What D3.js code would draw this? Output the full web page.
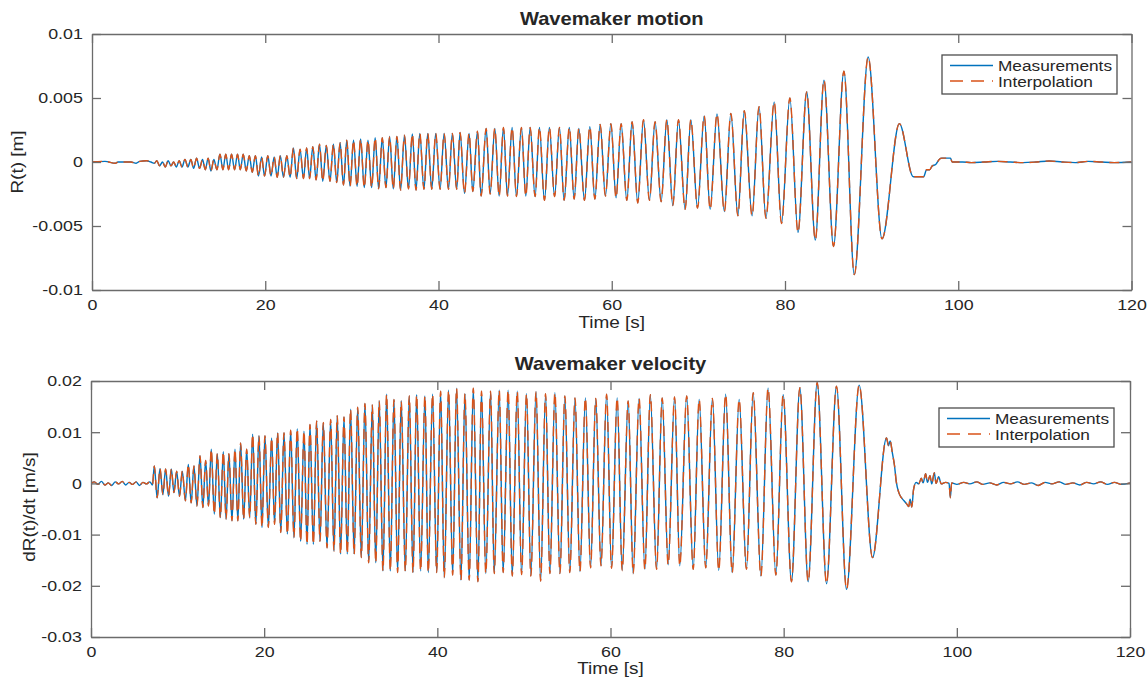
<!DOCTYPE html>
<html>
<head>
<meta charset="utf-8">
<script src="https://cdn.jsdelivr.net/npm/d3@7"></script>
<style>
  body { margin: 0; background: #fff; }
  svg { display: block; }
  text { font-family: "Liberation Sans", Arial, Helvetica, sans-serif; fill: #262626; }
</style>
</head>
<body>
<svg id="fig" width="1148" height="684"></svg>
<script>
// series names and tick values
var seriesNames = ["Measurements", "Interpolation"];
var timeTicks = [0, 20, 40, 60, 80, 100, 120];
var motionTicks = [-0.01, -0.005, 0, 0.005, 0.01];
var velocityTicks = [-0.03, -0.02, -0.01, 0, 0.01, 0.02];

// wavemaker motion R(t): extrema
var motionTime = [0, 1.5, 2.7, 3.0, 4.5, 5.1, 5.5, 6.3, 6.8, 7.2,
  7.48, 7.80, 8.14, 8.46, 8.79, 9.12, 9.43, 9.74, 10.06, 10.39,
  10.73, 11.07, 11.41, 11.73, 12.07, 12.42, 12.76, 13.08, 13.41, 13.73,
  14.07, 14.42, 14.77, 15.11, 15.44, 15.77, 16.11, 16.46, 16.8, 17.12,
  17.46, 17.81, 18.16, 18.5, 18.86, 19.22, 19.58, 19.92, 20.29, 20.67,
  21.03, 21.38, 21.74, 22.1, 22.49, 22.87, 23.25, 23.63, 24.02, 24.41,
  24.78, 25.12, 25.49, 25.87, 26.26, 26.64, 27.05, 27.47, 27.87, 28.25,
  28.64, 29.03, 29.41, 29.79, 30.19, 30.6, 31.01, 31.43, 31.86, 32.28,
  32.69, 33.09, 33.51, 33.93, 34.36, 34.78, 35.2, 35.62, 36.07, 36.53,
  36.98, 37.4, 37.84, 38.32, 38.76, 39.22, 39.68, 40.18, 40.65, 41.15,
  41.6, 42.1, 42.49, 43.0, 43.53, 43.96, 44.5, 44.92, 45.5, 45.96,
  46.5, 47.0, 47.5, 47.96, 48.5, 49.0, 49.57, 50.08, 50.58, 51.15,
  51.65, 52.23, 52.8, 53.4, 53.96, 54.5, 55.1, 55.66, 56.2, 56.85,
  57.47, 58.05, 58.66, 59.27, 59.9, 60.5, 61.08, 61.74, 62.35, 63.0,
  63.66, 64.35, 65.0, 65.7, 66.36, 67.05, 67.7, 68.47, 69.13, 69.9,
  70.67, 71.36, 72.15, 73.0, 73.75, 74.56, 75.3, 76.2, 77.0, 77.8,
  78.75, 79.6, 80.56, 81.5, 82.5, 83.5, 84.5, 85.6, 86.8, 88.0,
  89.6, 91.2, 93.2, 94.8, 96.0, 96.35, 96.7, 97.0, 97.4, 97.8,
  98.1, 99.1, 99.3, 100.5, 101.5, 103, 104.5, 106, 107.5, 109,
  110.5, 112, 113.5, 115, 116.5, 118, 120];
var motionValue = [0, 0.00005, -0.0001, 0, 0, -0.0001, 0.00005, 0.0001, 0, -0.0001,
  0.0001, -0.0003, 0.0, -0.0004, 0.0001, -0.0003, 0.0, -0.0004, 0.0001, -0.0004,
  0.0002, -0.0004, 0.0002, -0.0005, 0.0003, -0.0005, 0.0002, -0.0006, 0.0003, -0.0007,
  0.0002, -0.0006, 0.0006, -0.0006, 0.0006, -0.0006, 0.0006, -0.0006, 0.0006, -0.0006,
  0.0006, -0.0007, 0.0005, -0.0008, 0.0005, -0.0011, 0.0004, -0.0011, 0.0005, -0.0011,
  0.0004, -0.0012, 0.0005, -0.0012, 0.0005, -0.0012, 0.0011, -0.0013, 0.0010, -0.0013,
  0.0011, -0.0013, 0.0012, -0.0014, 0.0014, -0.0015, 0.0013, -0.0015, 0.0014, -0.0016,
  0.0015, -0.0018, 0.0017, -0.0019, 0.0017, -0.0019, 0.0018, -0.0020, 0.0017, -0.0020,
  0.0019, -0.0021, 0.0019, -0.0020, 0.0020, -0.0021, 0.0020, -0.0022, 0.0021, -0.0021,
  0.0022, -0.0022, 0.00224, -0.00213, 0.00224, -0.00213, 0.00224, -0.00213, 0.00224, -0.00213,
  0.00224, -0.00213, 0.0023, -0.00245, 0.00224, -0.0023, 0.0024, -0.00266, 0.00263, -0.0025,
  0.00263, -0.00266, 0.0027, -0.00266, 0.0027, -0.0027, 0.0027, -0.00266, 0.0027, -0.0027,
  0.0027, -0.0030, 0.0027, -0.0027, 0.0027, -0.0030, 0.0027, -0.0029, 0.00263, -0.0030,
  0.00276, -0.0029, 0.00294, -0.00266, 0.0030, -0.0028, 0.0030, -0.0030, 0.00315, -0.0032,
  0.0033, -0.0030, 0.00315, -0.0031, 0.0033, -0.0034, 0.0033, -0.0037, 0.0033, -0.0036,
  0.0036, -0.0037, 0.00375, -0.00388, 0.0038, -0.0042, 0.0040, -0.0042, 0.00433, -0.0044,
  0.0047, -0.0048, 0.0050, -0.0055, 0.00547, -0.0061, 0.0064, -0.0066, 0.0071, -0.0088,
  0.0082, -0.0060, 0.0030, -0.00115, -0.00115, -0.0006, -0.0006, -0.0003, -0.0002, 0.0002,
  0.0003, 0.0003, 0.0, 0.0, -0.00005, 0.0, 0.00005, 0.0, -0.00005, 0.0,
  0.00008, 0.0, -0.00005, 0.00005, 0.0, -0.00005, 0.0];

// wavemaker velocity dR/dt: extrema
var velocityTime = [0, 0.4, 0.8, 1.2, 1.6, 2.0, 2.4, 2.8, 3.2, 3.6,
  4.0, 4.4, 4.8, 5.2, 5.6, 6.0, 6.4, 6.8, 7.1,
  7.31, 7.64, 7.97, 8.30, 8.62, 8.95, 9.28, 9.58, 9.89, 10.22,
  10.55, 10.9, 11.24, 11.57, 11.89, 12.24, 12.59, 12.92, 13.24, 13.57,
  13.89, 14.24, 14.59, 14.94, 15.28, 15.6, 15.93, 16.28, 16.63, 16.96,
  17.28, 17.63, 17.98, 18.33, 18.67, 19.04, 19.4, 19.75, 20.09, 20.48,
  20.86, 21.2, 21.55, 21.92, 22.29, 22.68, 23.06, 23.44, 23.82, 24.21,
  24.6, 24.95, 25.29, 25.68, 26.06, 26.45, 26.83, 27.26, 27.68, 28.06,
  28.44, 28.83, 29.22, 29.6, 29.98, 30.39, 30.8, 31.22, 31.64, 32.07,
  32.49, 32.89, 33.29, 33.72, 34.14, 34.57, 34.99, 35.41, 35.83, 36.3,
  36.76, 37.19, 37.61, 38.07, 38.57, 38.95, 39.45, 39.92, 40.38, 40.8,
  41.3, 41.77, 42.22, 42.73, 43.19, 43.68, 44.15, 44.69, 45.1, 45.6,
  46.15, 46.57, 47.15, 47.6, 48.18, 48.65, 49.23, 49.73, 50.3, 50.8,
  51.4, 51.93, 52.5, 53.0, 53.58, 54.16, 54.73, 55.3, 55.9, 56.47,
  57.1, 57.7, 58.3, 58.9, 59.55, 60.12, 60.77, 61.35, 62.04, 62.62,
  63.3, 63.97, 64.6, 65.32, 65.97, 66.66, 67.4, 68.0, 68.8, 69.55,
  70.24, 71.0, 71.77, 72.5, 73.3, 74.05, 74.86, 75.7, 76.48, 77.37,
  78.2, 79.1, 79.94, 80.9, 81.87, 82.83, 83.87, 84.95, 86.1, 87.26,
  88.72, 90.26, 91.88, 92.1, 92.3, 92.55, 92.8, 93.0, 93.3, 93.6,
  93.9, 94.2, 94.45, 94.6, 94.8, 95.0, 95.3, 95.6, 95.9, 96.1,
  96.4, 96.6, 96.9, 97.1, 97.4, 97.6, 97.9, 98.2, 98.7, 99.1,
  99.25, 99.4, 100, 100.8, 101.5, 102.3, 103.0, 103.8, 104.6, 105.4,
  106.2, 107.0, 107.8, 108.6, 109.4, 110.2, 111.0, 111.8, 112.6, 113.4,
  114.2, 115.0, 115.8, 116.6, 117.4, 118.2, 119.0, 120];
var velocityValue = [0, 0.0003, -0.0002, 0.0004, -0.0003, 0.0001, -0.0004, 0.0003, -0.0001, 0.0004,
  -0.0003, 0.0002, -0.0002, 0.0003, -0.0004, 0.0002, -0.0001, 0.0003, -0.0003,
  0.0034, -0.0028, 0.0029, -0.0022, 0.0028, -0.0025, 0.0028, -0.0018, 0.0024, -0.0025,
  0.0024, -0.0034, 0.0037, -0.0038, 0.0034, -0.0044, 0.0054, -0.0047, 0.0045, -0.0044,
  0.0067, -0.0060, 0.0058, -0.0067, 0.0062, -0.0070, 0.0058, -0.0073, 0.0067, -0.0073,
  0.0079, -0.0070, 0.0067, -0.0067, 0.0096, -0.0080, 0.0093, -0.0086, 0.0093, -0.0086,
  0.0089, -0.0080, 0.0099, -0.0096, 0.0099, -0.0099, 0.0104, -0.0106, 0.0107, -0.0113,
  0.0102, -0.0119, 0.0115, -0.0119, 0.0122, -0.0113, 0.0119, -0.0126, 0.0125, -0.0132,
  0.0132, -0.0138, 0.0130, -0.0138, 0.0145, -0.0138, 0.0149, -0.0145, 0.0156, -0.0155,
  0.0153, -0.0155, 0.0161, -0.0171, 0.0174, -0.0171, 0.0164, -0.0174, 0.0161, -0.0171,
  0.0171, -0.0174, 0.0173, -0.0171, 0.0171, -0.0174, 0.0174, -0.0174, 0.0180, -0.0184,
  0.0182, -0.0179, 0.0186, -0.0189, 0.0175, -0.0189, 0.0186, -0.0192, 0.0180, -0.0176,
  0.0180, -0.0176, 0.0182, -0.0174, 0.0182, -0.0181, 0.0180, -0.0178, 0.0175, -0.0181,
  0.0179, -0.0191, 0.0175, -0.0176, 0.0177, -0.0176, 0.0171, -0.0174, 0.0167, -0.0172,
  0.0167, -0.0165, 0.0166, -0.0161, 0.0174, -0.0166, 0.0167, -0.0170, 0.0161, -0.0176,
  0.0166, -0.0168, 0.0173, -0.0168, 0.0167, -0.0159, 0.0169, -0.0161, 0.0171, -0.0168,
  0.0164, -0.0165, 0.0166, -0.0170, 0.0174, -0.0174, 0.0164, -0.0168, 0.0177, -0.0181,
  0.0186, -0.0179, 0.0173, -0.0192, 0.0187, -0.0192, 0.0197, -0.0196, 0.0190, -0.0207,
  0.0192, -0.0145, 0.0089, 0.0074, 0.0083, 0.0060, 0.0035, 0.0004, -0.0018, -0.0028,
  -0.0034, -0.0040, -0.0045, -0.0031, -0.0046, -0.0012, 0.0002, -0.0001, 0.0010, 0.0001,
  0.0019, 0.0002, 0.0015, -0.0001, 0.0021, 0.0000, 0.0013, -0.0001, 0.0002, 0.0000,
  -0.0028, 0.0001, -0.0002, 0.0002, -0.0001, 0.0003, -0.0002, 0.0001, -0.0003, 0.0002,
  -0.0001, 0.0003, -0.0002, 0.0001, -0.0004, 0.0002, -0.0001, 0.0003, -0.0002, 0.0001,
  -0.0003, 0.0002, -0.0001, 0.0003, -0.0002, 0.0002, -0.0002, 0.0001];

var colors = ["#0072BD", "#D95319"];
var sx = 1.15; // horizontal stretch of the lettering
var svg = d3.select("#fig");

function panel(opt) {
  var x = d3.scaleLinear().domain([0, 120]).range([opt.left, opt.right]);
  var y = d3.scaleLinear().domain(d3.extent(opt.yTicks)).range([opt.bottom, opt.top]);
  var g = svg.append("g");
  var data = opt.time.map(function(t, i) { return [t, opt.values[i]]; });

  g.append("clipPath").attr("id", opt.id)
    .append("rect")
    .attr("x", opt.left).attr("y", opt.top)
    .attr("width", opt.right - opt.left).attr("height", opt.bottom - opt.top);

  var line = d3.line()
    .x(function(d) { return x(d[0]); })
    .y(function(d) { return y(d[1]); })
    .curve(d3.curveMonotoneX);

  var lines = g.append("g").attr("clip-path", "url(#" + opt.id + ")");
  lines.append("path").datum(data)
    .attr("d", line).attr("fill", "none")
    .attr("stroke", colors[0]).attr("stroke-width", 1.4);
  lines.append("path").datum(data)
    .attr("d", line).attr("fill", "none")
    .attr("stroke", colors[1]).attr("stroke-width", 1.4)
    .attr("stroke-dasharray", "10,6");

  // axes with inward ticks on all four sides
  var fmt = function(d) { return String(d); };
  function style(sel) {
    sel.select(".domain").attr("stroke", "#6b6b6b").attr("stroke-width", 1.3);
    sel.selectAll(".tick line").attr("stroke", "#6b6b6b").attr("stroke-width", 1.3);
    sel.selectAll("text").attr("font-size", 15.5).attr("fill", "#262626")
      .attr("font-family", "Liberation Sans, Arial, sans-serif");
  }
  g.append("g").attr("transform", "translate(0," + opt.bottom + ")")
    .call(d3.axisBottom(x).tickValues(timeTicks).tickFormat(fmt).tickSize(-9).tickSizeOuter(0).tickPadding(9))
    .call(style)
    .selectAll("text").attr("transform", "scale(" + sx + ",1)");
  g.append("g").attr("transform", "translate(0," + opt.top + ")")
    .call(d3.axisTop(x).tickValues(timeTicks).tickFormat("").tickSize(-9).tickSizeOuter(0))
    .call(style);
  g.append("g").attr("transform", "translate(" + opt.left + ",0)")
    .call(d3.axisLeft(y).tickValues(opt.yTicks).tickFormat(fmt).tickSize(-9).tickSizeOuter(0).tickPadding(8))
    .call(style)
    .selectAll("text").attr("transform", "scale(" + sx + ",1)");
  g.append("g").attr("transform", "translate(" + opt.right + ",0)")
    .call(d3.axisRight(y).tickValues(opt.yTicks).tickFormat("").tickSize(-9).tickSizeOuter(0))
    .call(style);

  var cx = (opt.left + opt.right) / 2;
  g.append("text").text(opt.title)
    .attr("text-anchor", "middle").attr("font-weight", "bold").attr("font-size", 17.5)
    .attr("transform", "translate(" + cx + "," + opt.titleY + ") scale(" + sx + ",1)");
  g.append("text").text("Time [s]")
    .attr("text-anchor", "middle").attr("font-size", 16.5)
    .attr("transform", "translate(" + cx + "," + opt.xLabelY + ") scale(" + sx + ",1)");
  g.append("text").text(opt.yLabel)
    .attr("text-anchor", "middle").attr("font-size", 16.5)
    .attr("transform", "translate(" + opt.yLabelX + "," + opt.yLabelY + ") rotate(-90) scale(" + sx + ",1)");

  // legend
  var lg = g.append("g").attr("transform", "translate(" + opt.legend[0] + "," + opt.legend[1] + ")");
  lg.append("rect").attr("width", 175).attr("height", 39)
    .attr("fill", "#fff").attr("stroke", "#4d4d4d").attr("stroke-width", 1.3);
  seriesNames.forEach(function(name, i) {
    var yy = 10.5 + i * 15.5;
    lg.append("line").attr("x1", 8).attr("x2", 51).attr("y1", yy).attr("y2", yy)
      .attr("stroke", colors[i]).attr("stroke-width", 1.4)
      .attr("stroke-dasharray", i ? "13,8" : null);
    lg.append("text").text(name).attr("font-size", 15)
      .attr("transform", "translate(56," + (yy + 5.5) + ") scale(" + sx + ",1)");
  });
}

panel({
  id: "clipTop", time: motionTime, values: motionValue, yTicks: motionTicks,
  left: 92, right: 1131.5, top: 34, bottom: 290,
  title: "Wavemaker motion", titleY: 25, xLabelY: 328,
  yLabel: "R(t) [m]", yLabelX: 23, yLabelY: 162, legend: [942, 55]
});
panel({
  id: "clipBottom", time: velocityTime, values: velocityValue, yTicks: velocityTicks,
  left: 91, right: 1130, top: 381, bottom: 637,
  title: "Wavemaker velocity", titleY: 369.5, xLabelY: 673.5,
  yLabel: "dR(t)/dt [m/s]", yLabelX: 35, yLabelY: 507, legend: [939, 408]
});
</script>
</body>
</html>
